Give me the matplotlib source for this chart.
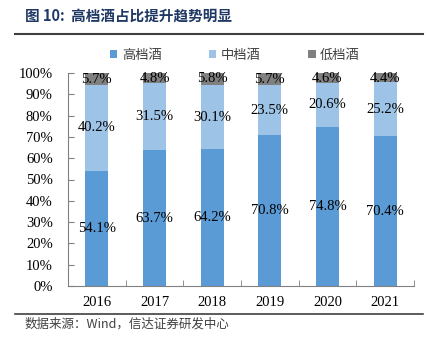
import matplotlib
matplotlib.use("Agg")
import matplotlib.pyplot as plt
from matplotlib.lines import Line2D
import numpy as np

years = ["2016", "2017", "2018", "2019", "2020", "2021"]
high = [54.1, 63.7, 64.2, 70.8, 74.8, 70.4]
mid = [40.2, 31.5, 30.1, 23.5, 20.6, 25.2]
low = [5.7, 4.8, 5.8, 5.7, 4.6, 4.4]
series_names = ["高档酒", "中档酒", "低档酒"]
yticks = [0, 10, 20, 30, 40, 50, 60, 70, 80, 90, 100]

colors = ["#5B9BD5", "#9DC3E6", "#808080"]
cjk = ["Noto Sans CJK SC", "DejaVu Sans"]
serif = ["Liberation Serif", "DejaVu Serif"]

fig = plt.figure(figsize=(4.34, 3.44), dpi=100)
ax = fig.add_axes([68/434, 1-286/344, (414-68)/434, (286-73)/344])

x = np.arange(len(years))
w = 0.4
data = [np.array(high)/100, np.array(mid)/100, np.array(low)/100]
bottom = np.zeros(len(years))
for vals, c, name in zip(data, colors, series_names):
    ax.bar(x, vals, w, bottom=bottom, color=c, label=name, zorder=2)
    for xi, b, v in zip(x, bottom, vals):
        yc = min(b + v/2, 1 - 0.028) if name == "低档酒" else b + v/2
        ax.text(xi, yc, f"{v*100:.1f}%", ha="center", va="center",
                fontsize=10.5, family=serif, color="black", zorder=3)
    bottom = bottom + vals

ax.set_ylim(0, 1)
ax.set_xlim(-0.5, len(years) - 0.5)
ax.set_yticks([t/100 for t in yticks])
ax.set_yticklabels([f"{t}%" for t in yticks], family=serif, fontsize=10.5)
ax.set_xticks(x)
ax.set_xticklabels(years, family=serif, fontsize=10.5)
ax.tick_params(axis="x", length=0, pad=7)
ax.set_xticks(np.arange(len(years)+1) - 0.5, minor=True)
ax.tick_params(axis="x", which="minor", direction="in", length=4, color="#808080")
ax.tick_params(axis="y", direction="in", length=4, color="#808080", pad=11)
for s in ["top", "right"]:
    ax.spines[s].set_visible(False)
for s in ["left", "bottom"]:
    ax.spines[s].set_color("#808080")
    ax.spines[s].set_linewidth(0.8)

leg = fig.legend(loc="center", bbox_to_anchor=(235/434, 1-55/344), ncol=3,
                 frameon=False, prop={"family": cjk, "size": 9.5},
                 handlelength=0.55, handleheight=0.55, columnspacing=3.6,
                 handletextpad=0.35)
for t in leg.get_texts():
    t.set_color("#404040")

fig.text(25/434, 1-16/344, "图 10:  高档酒占比提升趋势明显", family=cjk,
         fontsize=10.5, fontweight="bold", color="#1F3864", va="center", ha="left")
fig.add_artist(Line2D([15/434, 423/434], [1-34/344, 1-34/344], color="#404040",
                      linewidth=1.5, transform=fig.transFigure))
fig.add_artist(Line2D([15/434, 423/434], [1-314/344, 1-314/344], color="#404040",
                      linewidth=1.2, transform=fig.transFigure))
fig.text(25/434, 1-324/344, "数据来源：Wind，信达证券研发中心", family=cjk,
         fontsize=9, style="italic", color="#404040", va="center", ha="left")

fig.savefig("out.png", dpi=100)
